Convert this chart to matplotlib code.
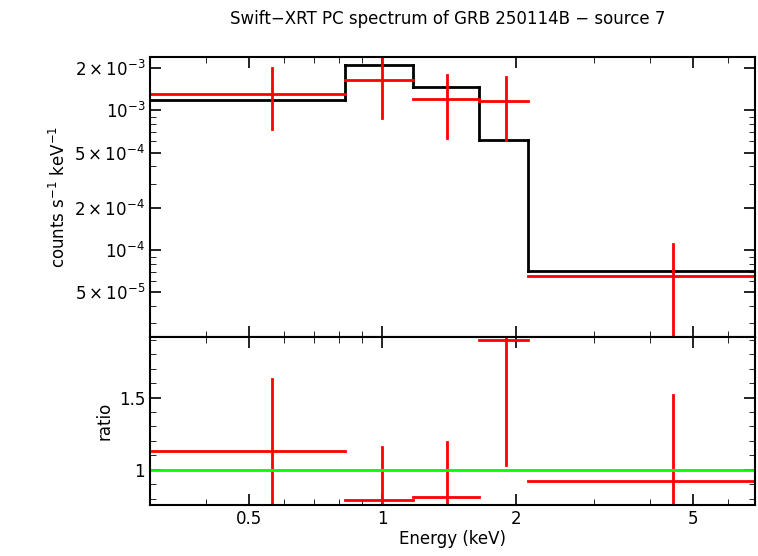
import matplotlib
matplotlib.use('Agg')
import matplotlib.pyplot as plt
import numpy as np

# energy bins (keV)
e_lo = [0.30, 0.826, 1.174, 1.65, 2.13]
e_hi = [0.826, 1.174, 1.65, 2.13, 6.9]
e_cen = [0.563, 1.0, 1.40, 1.90, 4.51]

# spectrum (counts/s/keV)
rate = [1.32e-3, 1.66e-3, 1.2e-3, 1.16e-3, 6.6e-5]
rate_up = [2.0e-3, 2.6e-3, 1.78e-3, 1.72e-3, 1.1e-4]
rate_lo = [7.4e-4, 8.8e-4, 6.4e-4, 6.1e-4, 1e-6]
model = [1.18e-3, 2.1e-3, 1.46e-3, 6.1e-4, 7.1e-5]

# ratio panel
ratio = [1.13, 0.79, 0.81, 1.9, 0.92]
ratio_up = [1.63, 1.16, 1.19, 2.0, 1.52]
ratio_lo = [0.5, 0.5, 0.5, 1.03, 0.5]

fig = plt.figure(figsize=(7.58, 5.56), dpi=100)
ax1 = fig.add_axes([0.198, 0.394, 0.798, 0.503])
ax2 = fig.add_axes([0.198, 0.092, 0.798, 0.302], sharex=ax1)

xmin, xmax = 0.30, 6.9
# model step
for i in range(len(e_lo)):
    ax1.plot([e_lo[i], e_hi[i]], [model[i], model[i]], color='black', lw=2)
    if i + 1 < len(e_lo):
        ax1.plot([e_hi[i], e_hi[i]], [model[i], model[i + 1]], color='black', lw=2)
    ax1.plot([e_lo[i], e_hi[i]], [rate[i], rate[i]], color='red', lw=2)
    ax1.plot([e_cen[i], e_cen[i]], [rate_lo[i], rate_up[i]], color='red', lw=2)
    ax2.plot([e_lo[i], e_hi[i]], [ratio[i], ratio[i]], color='red', lw=2)
    ax2.plot([e_cen[i], e_cen[i]], [ratio_lo[i], ratio_up[i]], color='red', lw=2)
ax2.axhline(1.0, color='#00ff00', lw=2)

ax1.set_xscale('log')
ax1.set_yscale('log')
ax1.set_xlim(xmin, xmax)
ax1.set_ylim(2.4e-5, 2.4e-3)
ax2.set_ylim(0.757, 1.92)

ytk = [5e-5, 1e-4, 2e-4, 5e-4, 1e-3, 2e-3]
ytl = [r'$5\times10^{-5}$', r'$10^{-4}$', r'$2\times10^{-4}$',
       r'$5\times10^{-4}$', r'$10^{-3}$', r'$2\times10^{-3}$']
ax1.set_yticks(ytk)
ax1.set_yticklabels(ytl)
ax1.yaxis.set_minor_locator(matplotlib.ticker.LogLocator(subs=np.arange(2, 10)))
ax1.yaxis.set_minor_formatter(matplotlib.ticker.NullFormatter())
plt.setp(ax1.get_xticklabels(), visible=False)

ax2.set_xticks([0.5, 1, 2, 5])
ax2.set_xticklabels(['0.5', '1', '2', '5'])
ax2.xaxis.set_minor_formatter(matplotlib.ticker.NullFormatter())
ax2.set_yticks([1, 1.5])
ax2.set_yticklabels(['1', '1.5'])
ax2.yaxis.set_minor_locator(matplotlib.ticker.MultipleLocator(0.1))

for ax in (ax1, ax2):
    ax.tick_params(which='both', direction='in', top=True, right=True, labelsize=12)
    ax.tick_params(which='major', length=8, width=1.2)
    ax.tick_params(which='minor', length=4)
    for s in ax.spines.values():
        s.set_linewidth(1.5)

ax1.set_ylabel(r'counts s$^{-1}$ keV$^{-1}$', fontsize=12)
ax2.set_ylabel('ratio', fontsize=12)
ax2.set_xlabel('Energy (keV)', fontsize=12, labelpad=2)
fig.text(0.59, 0.965, 'Swift\u2212XRT PC spectrum of GRB 250114B \u2212 source 7',
         ha='center', va='center', fontsize=12)

fig.savefig('out.png', dpi=100)
